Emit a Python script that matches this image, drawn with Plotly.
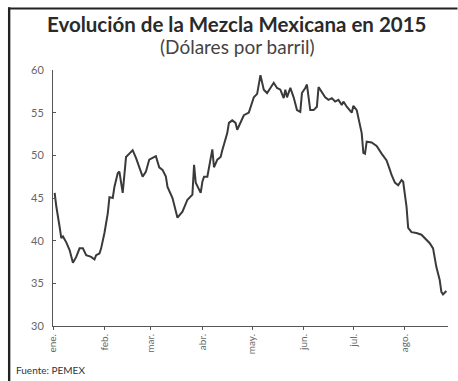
import plotly.graph_objects as go

# Mezcla Mexicana 2015
fechas = [
    "2015-01-02", "2015-01-03", "2015-01-05", "2015-01-06", "2015-01-07", "2015-01-09",
    "2015-01-11", "2015-01-13", "2015-01-15", "2015-01-17", "2015-01-19", "2015-01-21",
    "2015-01-24", "2015-01-26", "2015-01-27", "2015-01-29", "2015-01-30", "2015-02-01",
    "2015-02-03", "2015-02-04", "2015-02-06", "2015-02-07", "2015-02-09", "2015-02-10",
    "2015-02-12", "2015-02-13", "2015-02-14", "2015-02-16", "2015-02-18", "2015-02-20",
    "2015-02-22", "2015-02-24", "2015-02-26", "2015-02-28", "2015-03-02", "2015-03-04",
    "2015-03-06", "2015-03-08", "2015-03-10", "2015-03-11", "2015-03-14", "2015-03-16",
    "2015-03-17", "2015-03-20", "2015-03-22", "2015-03-23", "2015-03-26", "2015-03-27",
    "2015-03-28", "2015-03-31", "2015-04-01", "2015-04-02", "2015-04-04", "2015-04-07",
    "2015-04-08", "2015-04-10", "2015-04-12", "2015-04-13", "2015-04-16", "2015-04-17",
    "2015-04-19", "2015-04-21", "2015-04-22", "2015-04-24", "2015-04-26", "2015-04-29",
    "2015-04-30", "2015-05-02", "2015-05-04", "2015-05-06", "2015-05-08", "2015-05-10",
    "2015-05-12", "2015-05-13", "2015-05-14", "2015-05-16", "2015-05-18", "2015-05-20",
    "2015-05-21", "2015-05-22", "2015-05-23", "2015-05-24", "2015-05-26", "2015-05-28",
    "2015-05-30", "2015-05-31", "2015-06-02", "2015-06-03", "2015-06-04", "2015-06-05",
    "2015-06-07", "2015-06-09", "2015-06-10", "2015-06-12", "2015-06-14", "2015-06-16",
    "2015-06-18", "2015-06-20", "2015-06-22", "2015-06-24", "2015-06-25", "2015-06-27",
    "2015-06-30", "2015-07-01", "2015-07-03", "2015-07-06", "2015-07-07", "2015-07-08",
    "2015-07-09", "2015-07-12", "2015-07-15", "2015-07-18", "2015-07-21", "2015-07-23",
    "2015-07-24", "2015-07-26", "2015-07-28", "2015-07-30", "2015-07-31", "2015-08-02",
    "2015-08-03", "2015-08-05", "2015-08-08", "2015-08-11", "2015-08-13", "2015-08-16",
    "2015-08-18", "2015-08-20", "2015-08-22", "2015-08-23", "2015-08-24", "2015-08-26",
]
precios = [
    45.6, 44.0, 41.6, 40.3, 40.5, 39.8,
    38.9, 37.4, 38.1, 39.1, 39.1, 38.3,
    38.1, 37.8, 38.3, 38.5, 39.1, 40.9,
    43.2, 45.1, 45.0, 46.3, 47.9, 48.1,
    45.6, 47.9, 49.8, 50.2, 50.6, 49.7,
    48.6, 47.5, 48.1, 49.5, 49.7, 49.9,
    48.6, 48.3, 47.5, 46.3, 45.0, 43.6,
    42.7, 43.4, 44.2, 44.8, 45.4, 48.9,
    46.8, 45.6, 46.9, 47.5, 47.5, 50.7,
    48.6, 49.5, 49.8, 50.6, 52.6, 53.8,
    54.1, 53.8, 53.0, 53.9, 54.7, 55.0,
    55.6, 56.8, 57.2, 59.4, 57.7, 57.3,
    57.9, 58.3, 58.5, 57.9, 57.7, 56.7,
    57.7, 56.8, 57.3, 57.9, 56.8, 55.3,
    55.1, 57.3, 57.9, 58.3, 56.8, 55.3,
    55.3, 55.7, 58.0, 57.4, 56.8, 56.5,
    56.7, 56.3, 56.5, 55.9, 56.3, 55.7,
    55.0, 55.8, 55.3, 52.6, 50.3, 50.2,
    51.6, 51.5, 51.1, 50.2, 49.4, 48.3,
    47.7, 46.8, 46.5, 47.1, 46.9, 44.0,
    41.5, 41.0, 40.9, 40.7, 40.3, 39.7,
    39.1, 36.9, 35.4, 34.0, 33.7, 34.1,
]

meses = ["2015-01-01", "2015-02-01", "2015-03-01", "2015-04-01",
         "2015-05-01", "2015-06-01", "2015-07-01", "2015-08-01"]
meses_txt = ["ene.", "feb.", "mar.", "abr.", "may.", "jun.", "jul.", "ago."]

FUENTE = "Lato"

fig = go.Figure()
fig.add_trace(go.Scatter(
    x=fechas, y=precios, mode="lines",
    line=dict(color="#3a3a3a", width=2),
    hoverinfo="skip", showlegend=False,
))

fig.update_xaxes(
    type="date", range=["2015-01-01", "2015-08-27"],
    tickvals=meses, ticktext=meses_txt, tickangle=-90,
    showline=True, linecolor="#555", linewidth=1,
    ticks="outside", ticklen=3, tickcolor="#555",
    showgrid=False, zeroline=False,
    tickfont=dict(family=FUENTE, size=10, color="#666"),
)
fig.update_yaxes(
    range=[30, 60], dtick=5,
    showline=True, linecolor="#555", linewidth=1,
    ticks="inside", ticklen=3, tickcolor="#555",
    showgrid=False, zeroline=False,
    ticklabelstandoff=6,
    tickfont=dict(family=FUENTE, size=11, color="#666"),
)

# marco de la lámina: borde izquierdo
fig.add_shape(type="rect", xref="paper", yref="paper",
              x0=-0.114, x1=-0.108, y0=-0.3, y1=1.245,
              fillcolor="#222", line=dict(width=0))
# borde superior, como caja de anotación
fig.add_annotation(text=" ", xref="paper", yref="paper",
                   x=-0.114, y=1.241, xanchor="left", yanchor="middle",
                   width=448, height=1, borderpad=0, bgcolor="#222",
                   showarrow=False, font=dict(size=1))

fig.add_annotation(text="<b>Evolución de la Mezcla Mexicana en 2015</b>",
                   xref="paper", yref="paper", x=0.465, y=1.178,
                   xanchor="center", yanchor="middle", showarrow=False,
                   font=dict(family=FUENTE, size=20.5, color="#2a2a2a"))
fig.add_annotation(text="(Dólares por barril)",
                   xref="paper", yref="paper", x=0.467, y=1.09,
                   xanchor="center", yanchor="middle", showarrow=False,
                   font=dict(family=FUENTE, size=19, color="#444"))
fig.add_annotation(text="Fuente: PEMEX",
                   xref="paper", yref="paper", x=-0.1, y=-0.17,
                   xanchor="left", yanchor="middle", showarrow=False,
                   font=dict(family=FUENTE, size=10, color="#333"))

fig.update_layout(
    width=458, height=381,
    margin=dict(l=53, r=10, t=70, b=55),
    paper_bgcolor="white", plot_bgcolor="white",
)

# sin el margen por defecto del <body>
fig.write_html("out.html", config={"displayModeBar": False},
               post_script="document.body.style.margin='0';")
